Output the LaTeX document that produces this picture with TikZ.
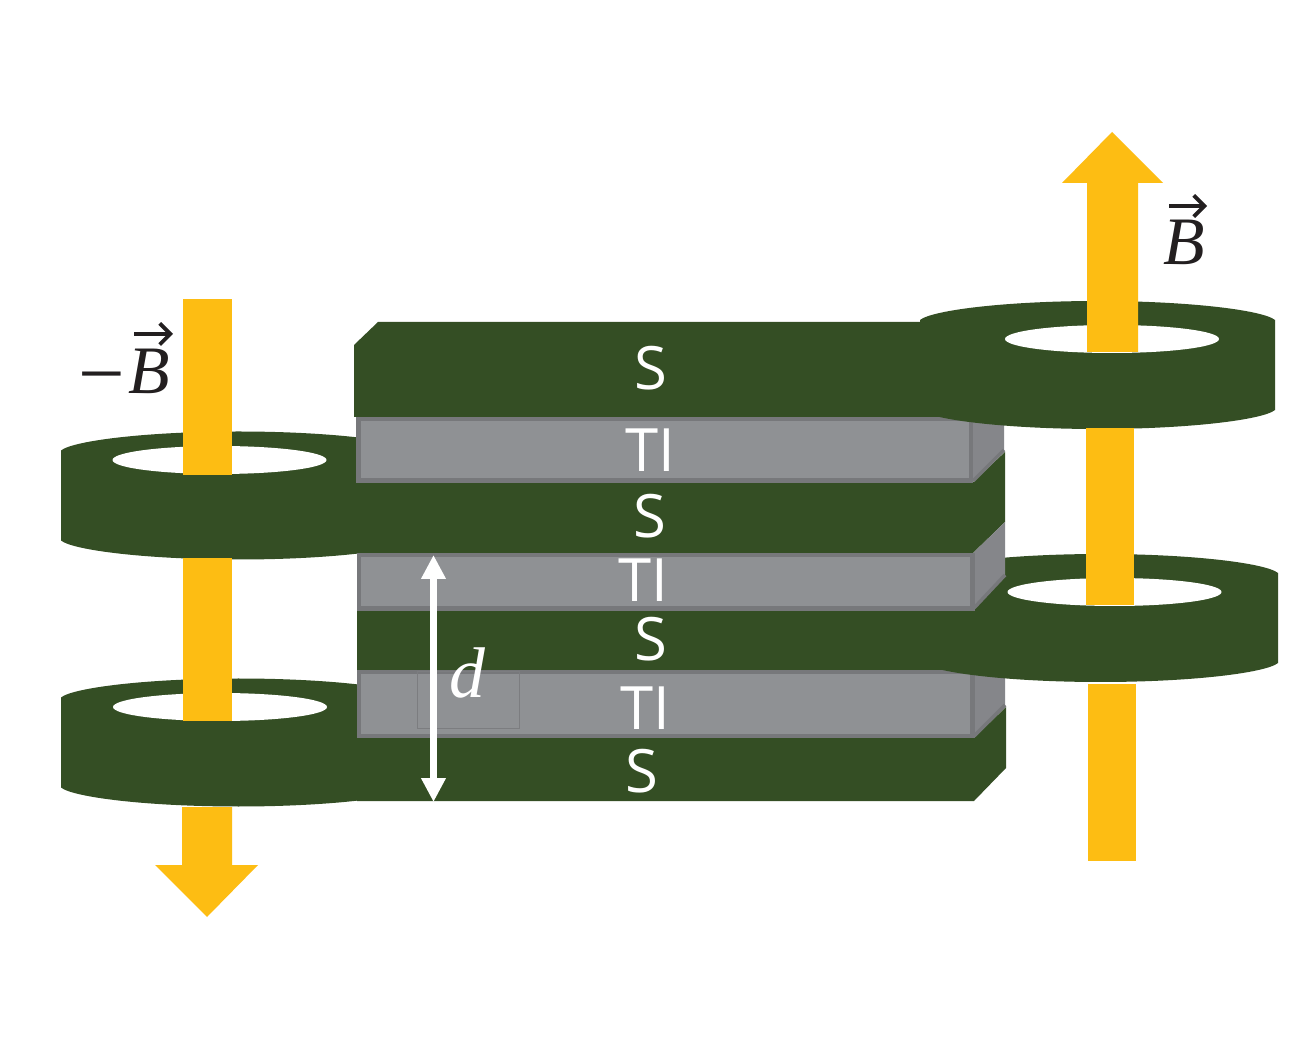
\documentclass[tikz,border=0pt]{standalone}
\usepackage{fontspec}
\usepackage{amsmath}
\usetikzlibrary{arrows.meta,positioning}
\newfontfamily\layerfont{Open Sans}
\newfontfamily\symbolfont{Liberation Serif}
\definecolor{sgreen}{HTML}{344E24}
\definecolor{tigray}{HTML}{8F9194}
\definecolor{tiedge}{HTML}{77787B}
\definecolor{tiside}{HTML}{85868A}
\definecolor{fieldyellow}{HTML}{FDBD13}
\definecolor{labelblack}{HTML}{231F20}
% ring: outer centre #1, hole centre #2
\newcommand{\fluxring}[2]{%
\fill[sgreen,shift={(#1)}] (177.5,-45) .. controls (165,-55) and (90,-64) .. (0,-64)
  .. controls (-90,-64) and (-165,-55) .. (-177.5,-45) -- (-177.5,45)
  .. controls (-165,55) and (-90,64) .. (0,64)
  .. controls (90,64) and (165,55) .. (177.5,45) -- cycle;
\fill[white] (#2) ellipse [x radius=107,y radius=14];}
\begin{document}
\begin{tikzpicture}[x=0.01cm,y=-0.01cm]
\tikzstyle{layer_s}=[fill=sgreen]
\tikzstyle{layer_front}=[draw=tiedge,fill=tigray,line width=1.2pt]
\tikzstyle{layer_side}=[fill=tiside]
\tikzstyle{layer_edge}=[draw=tiedge,line width=1pt]
\tikzstyle{field}=[fill=fieldyellow]
\tikzstyle{layer_label}=[text=white,font=\layerfont\fontsize{17}{19}\selectfont,inner sep=0pt]
\tikzstyle{b_label}=[text=labelblack,font=\symbolfont\itshape\fontsize{19.3}{21}\selectfont,inner sep=0pt]
\tikzstyle{b_arrow}=[labelblack,line width=1.1pt,-{Straight Barb[length=3pt,width=6pt]}]

\useasboundingbox[fill=white] (0,0) rectangle (1300,1037);

% left side
\fluxring{238.5,495.5}{219.5,460}
\fluxring{238.5,742.5}{220,707}
\fill[field] (183,299) rectangle (232,475.5);
\fill[field] (183,558.5) rectangle (232,721);
\fill[field] (182,807) -- (232,807) -- (232,865) -- (258,865) -- (207,917) -- (155,865) -- (182,865) -- cycle;

% S layers
\fill[layer_s] (357,738) -- (974,738) -- (1006,707) -- (1006,768) -- (974,801) -- (357,801) -- cycle;
\fill[layer_s] (357,608) -- (974,608) -- (1005,577) -- (1005,640) -- (974,672) -- (357,672) -- cycle;
\fill[layer_s] (357,482) -- (973,482) -- (1005,452) -- (1005,522) -- (973,553) -- (357,553) -- cycle;
\fill[layer_s] (354,345) -- (378,322) -- (1003,322) -- (1003,392) -- (972,417) -- (354,417) -- cycle;

% TI layers
\fill[layer_side] (972,420) -- (1004,395) -- (1004,452) -- (972,481) -- cycle;
\draw[layer_edge] (973,481) -- (1004,450);
\filldraw[layer_front] (358.5,419) rectangle (971,480.5);
\fill[layer_side] (973,672) -- (1005,640) -- (1005,707) -- (973,736) -- cycle;
\draw[layer_edge] (974,736) -- (1005,705);
\filldraw[layer_front] (359,672) rectangle (972.5,736);
\draw[tiedge!80!tigray,line width=0.15pt] (417,671) rectangle (519,728);

\fluxring{1100.5,618}{1114.5,592}
\fill[layer_side] (973,553) -- (1005,522) -- (1005,577) -- (973,608) -- cycle;
\draw[layer_edge] (974,608) -- (1005,575);
\filldraw[layer_front] (359,555) rectangle (972.5,608.5);
\fluxring{1097.5,365}{1112,339}

% right side
\fill[field] (1087,183) -- (1062,183) -- (1112,132) -- (1163,183) -- (1138,183) -- (1138,352) -- (1087,352) -- cycle;
\fill[field] (1086,428.5) rectangle (1134,605);
\fill[field] (1088,684) rectangle (1136,861);

% thickness arrow
\coordinate (d_top) at (433.5,555);
\coordinate (d_bottom) at (433.5,802);
\draw[white,line width=2pt,{Triangle[length=6.8pt,width=6.6pt]}-{Triangle[length=6.8pt,width=6.6pt]}] (d_top) -- (d_bottom);
\node[text=white,inner sep=0pt,font=\symbolfont\itshape\fontsize{20.4}{22}\selectfont] (d_label) at (467,673) {d};

\node[layer_label] (s1) at (651,368) {S};
\node[layer_label] (ti1) at (650,450) {TI};
\node[layer_label] (s2) at (650,516) {S};
\node[layer_label] (ti2) at (643,580) {TI};
\node[layer_label] (s3) at (651,639) {S};
\node[layer_label] (ti3) at (645,708) {TI};
\node[layer_label] (s4) at (642,771) {S};

\node[b_label,font=\symbolfont\fontsize{23.5}{25}\selectfont] (minus_b) at (101.5,387) {−};
\node[b_label] (left_b) at (149,371) {B};
\node[b_label] (right_b) at (1184,242) {B};
\coordinate (left_tail) at (134,334);
\coordinate (left_head) at (173,334);
\coordinate (right_tail) at (1169,206);
\coordinate (right_head) at (1207,206);
\draw[b_arrow] (left_tail) -- (left_head);
\draw[b_arrow] (right_tail) -- (right_head);
\end{tikzpicture}
\end{document}
